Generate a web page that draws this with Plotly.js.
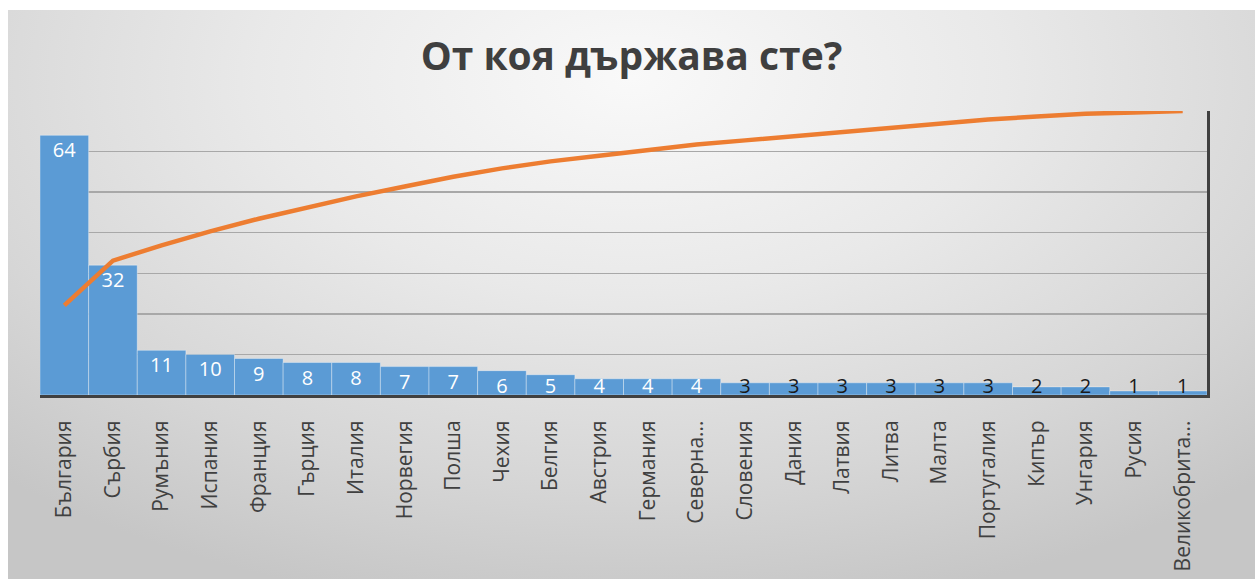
<!DOCTYPE html>
<html>
<head>
<meta charset="utf-8">
<script src="https://cdn.plot.ly/plotly-3.0.1.min.js"></script>
<style>
  html, body { margin: 0; padding: 0; background: #ffffff; width: 1255px; height: 579px; overflow: hidden; }
  #frame {
    position: absolute; left: 8px; top: 10px; width: 1247px; height: 569px;
    background: radial-gradient(ellipse 75% 95% at 50% 12%, #f9f9f9 0%, #e9e9e9 40%, #d6d6d6 75%, #c6c6c6 100%);
  }
  #chart { width: 1247px; height: 569px; }
</style>
</head>
<body>
<div id="frame"><div id="chart"></div></div>
<script>
const chartTitle = "От коя държава сте?";
const countries = ["България", "Сърбия", "Румъния", "Испания", "Франция", "Гърция", "Италия", "Норвегия", "Полша", "Чехия", "Белгия", "Австрия", "Германия", "Северна...", "Словения", "Дания", "Латвия", "Литва", "Малта", "Португалия", "Кипър", "Унгария", "Русия", "Великобрита..."];
const counts = [64, 32, 11, 10, 9, 8, 8, 7, 7, 6, 5, 4, 4, 4, 3, 3, 3, 3, 3, 3, 2, 2, 1, 1];

const total = counts.reduce((a, b) => a + b, 0);
let run = 0;
const cumulative = counts.map(v => { run += v; return run / total; });

const barColor = "#5B9BD5";
const lineColor = "#ED7D31";
const axisColor = "#404040";
const fontFam = "'Open Sans', 'Noto Sans', sans-serif";

// label positions: inside the top of bar, clamped near the baseline for short bars
const labelY = counts.map(v => Math.max(v - 4.2, 1.8));
const labelColors = counts.map(v => v >= 4 ? "#ffffff" : "#1a1a1a");

const traces = [
  {
    type: "bar", x: countries, y: counts, yaxis: "y",
    marker: { color: barColor, line: { color: "rgba(255,255,255,0.35)", width: 1 } },
    hoverinfo: "skip", showlegend: false
  },
  {
    type: "scatter", mode: "text", x: countries, y: labelY, yaxis: "y",
    text: counts.map(String), textposition: "middle center",
    textfont: { family: fontFam, size: 20, color: labelColors },
    hoverinfo: "skip", showlegend: false, cliponaxis: false
  },
  {
    type: "scatter", mode: "lines", x: countries, y: cumulative, yaxis: "y2",
    line: { color: lineColor, width: 4.5 },
    hoverinfo: "skip", showlegend: false, cliponaxis: false
  }
];

const layout = {
  width: 1247, height: 569,
  paper_bgcolor: "rgba(0,0,0,0)", plot_bgcolor: "rgba(0,0,0,0)",
  margin: { l: 32, r: 48, t: 101, b: 184 },
  bargap: 0,
  showlegend: false,
  hovermode: false,
  title: {
    text: "<b>" + chartTitle + "</b>",
    font: { family: fontFam, size: 39, color: "#3f3f3f" },
    x: 0.5, xanchor: "center", xref: "container",
    y: 1 - 46 / 569, yanchor: "middle", yref: "container"
  },
  xaxis: {
    type: "category", range: [-0.5, countries.length - 0.5],
    tickangle: -90, ticks: "", ticklabelstandoff: 14,
    tickfont: { family: fontFam, size: 21, color: axisColor },
    showline: true, linecolor: axisColor, linewidth: 3,
    showgrid: false, zeroline: false, fixedrange: true
  },
  yaxis: {
    range: [0, 70], dtick: 10, showticklabels: false, ticks: "",
    showgrid: true, gridcolor: "#a8a8a8", gridwidth: 1.5,
    showline: false, zeroline: false, fixedrange: true
  },
  yaxis2: {
    overlaying: "y", side: "right", range: [0, 1],
    showticklabels: false, ticks: "", showgrid: false, zeroline: false,
    showline: true, linecolor: axisColor, linewidth: 3, fixedrange: true
  }
};

Plotly.newPlot("chart", traces, layout, { displayModeBar: false, staticPlot: true });
</script>
</body>
</html>
